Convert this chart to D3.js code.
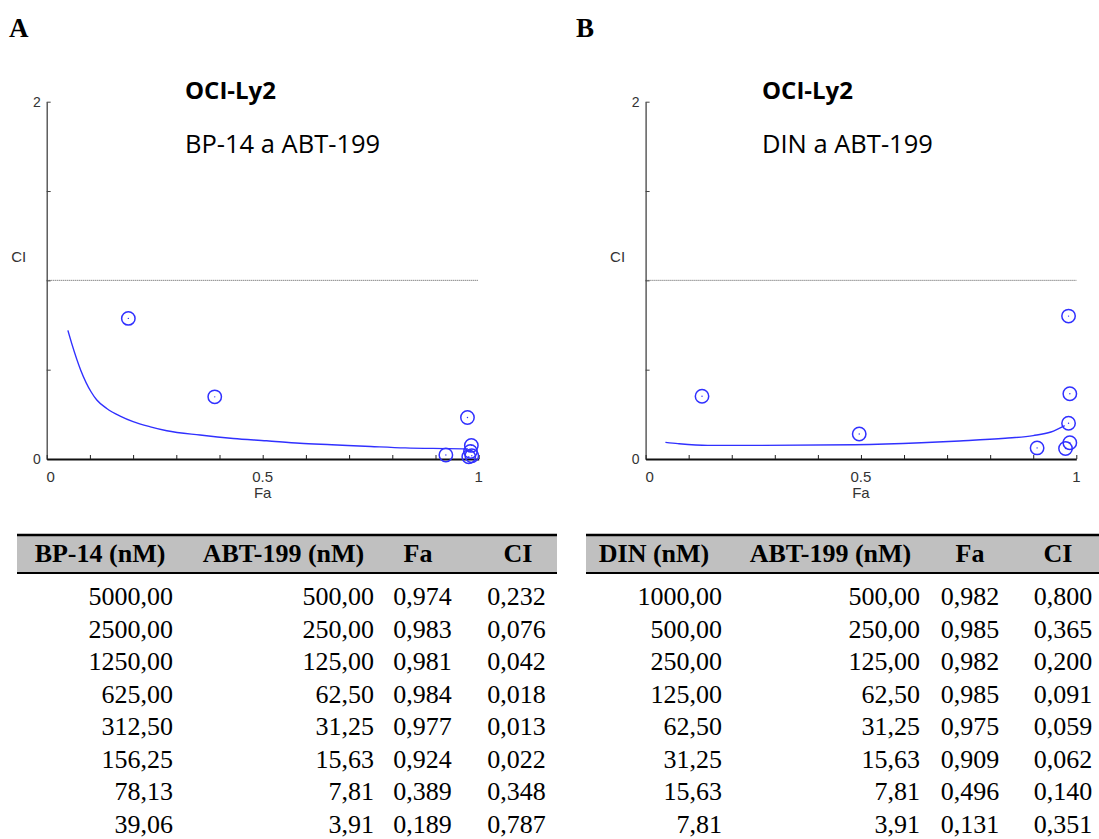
<!DOCTYPE html>
<html>
<head>
<meta charset="utf-8">
<script src="https://cdn.jsdelivr.net/npm/d3@7"></script>
<style>
  body { margin: 0; background: #fff; }
  svg { display: block; }
</style>
</head>
<body>
<svg id="fig" width="1099" height="839"></svg>
<script>
"use strict";

// table values, panel A (BP-14 + ABT-199)
var bp14Conc = [5000, 2500, 1250, 625, 312.5, 156.25, 78.13, 39.06];
var abtConcA = [500, 250, 125, 62.5, 31.25, 15.63, 7.81, 3.91];
var faA = [0.974, 0.983, 0.981, 0.984, 0.977, 0.924, 0.389, 0.189];
var ciA = [0.232, 0.076, 0.042, 0.018, 0.013, 0.022, 0.348, 0.787];

// table values, panel B (DIN + ABT-199)
var dinConc = [1000, 500, 250, 125, 62.5, 31.25, 15.63, 7.81];
var abtConcB = [500, 250, 125, 62.5, 31.25, 15.63, 7.81, 3.91];
var faB = [0.982, 0.985, 0.982, 0.985, 0.975, 0.909, 0.496, 0.131];
var ciB = [0.800, 0.365, 0.200, 0.091, 0.059, 0.062, 0.140, 0.351];

// simulated Fa-CI curves
var curveFaA = [0.049, 0.058, 0.079, 0.103, 0.116, 0.139, 0.170, 0.200, 0.240, 0.278, 0.355, 0.432, 0.509, 0.586, 0.660, 0.750, 0.830, 0.930, 0.975];
var curveCiA = [0.720, 0.646, 0.496, 0.375, 0.330, 0.283, 0.240, 0.209, 0.180, 0.158, 0.134, 0.115, 0.102, 0.088, 0.080, 0.070, 0.062, 0.058, 0.056];
var curveFaB = [0.046, 0.075, 0.144, 0.266, 0.485, 0.640, 0.729, 0.835, 0.900, 0.941, 0.973];
var curveCiB = [0.093, 0.086, 0.076, 0.076, 0.080, 0.091, 0.101, 0.116, 0.131, 0.151, 0.187];

// axes
var faTicks = [0, 0.1, 0.2, 0.3, 0.4, 0.5, 0.6, 0.7, 0.8, 0.9, 1];
var faLabels = [0, 0.5, 1];
var ciTicks = [0, 0.5, 1, 1.5, 2];
var ciLabels = [0, 2];

var headersA = ['BP-14 (nM)', 'ABT-199 (nM)', 'Fa', 'CI'];
var headersB = ['DIN (nM)', 'ABT-199 (nM)', 'Fa', 'CI'];

var BLUE = '#3030ff';
var svg = d3.select('#fig');

var loc = d3.formatLocale({ decimal: ',', thousands: '', grouping: [3], currency: ['', ''] });
var f2 = loc.format('.2f');
var f3 = loc.format('.3f');

function drawPlot(p) {
  var x = d3.scaleLinear().domain([0, 1]).range([p.x0, p.x1]);
  var y = d3.scaleLinear().domain([0, 2]).range([459, 101.7]);
  var g = svg.append('g');

  g.append('text')
    .attr('x', p.letterX).attr('y', 37)
    .style('font-family', 'Liberation Serif, serif')
    .style('font-weight', 'bold').style('font-size', '27px')
    .text(p.letter);

  g.append('text')
    .attr('x', p.titleX).attr('y', 99)
    .style('font-family', 'Open Sans, sans-serif')
    .style('font-weight', 'bold').style('font-size', '24px')
    .text('OCI-Ly2');
  g.append('text')
    .attr('x', p.titleX).attr('y', 153)
    .style('font-family', 'Open Sans, sans-serif')
    .style('font-size', '25.5px')
    .text(p.subtitle);

  // y axis
  var ya = g.append('g')
    .attr('transform', 'translate(' + p.x0 + ',0)')
    .call(d3.axisLeft(y).tickValues(ciTicks).tickSize(-4).tickSizeOuter(0).tickFormat(''));
  ya.select('.domain').attr('stroke', '#444').attr('stroke-width', 1.3);
  ya.selectAll('.tick line').attr('stroke', '#444');

  // x axis
  var xa = g.append('g')
    .attr('transform', 'translate(0,' + y(0) + ')')
    .call(d3.axisBottom(x).tickValues(faTicks).tickSize(-4).tickSizeOuter(0).tickFormat(''));
  xa.select('.domain').attr('stroke', '#111').attr('stroke-width', 1.8);
  xa.selectAll('.tick line').attr('stroke', '#222');

  var lab = { 'font-family': 'Liberation Sans, Arial, sans-serif', 'font-size': '15px', 'fill': '#333' };

  g.selectAll('.ylab').data(ciLabels).enter().append('text')
    .attr('x', p.x0 - 6).attr('y', function (d) { return y(d) + 5; })
    .attr('text-anchor', 'end')
    .style('font-family', lab['font-family']).style('font-size', '14px').style('fill', lab.fill)
    .text(function (d) { return d; });

  g.selectAll('.xlab').data(faLabels).enter().append('text')
    .attr('x', function (d) { return d === 0 ? x(d) + 4 : x(d); })
    .attr('y', 482)
    .attr('text-anchor', 'middle')
    .style('font-family', lab['font-family']).style('font-size', lab['font-size']).style('fill', lab.fill)
    .text(function (d) { return d; });

  g.append('text')
    .attr('x', x(0.5)).attr('y', 498)
    .attr('text-anchor', 'middle')
    .style('font-family', lab['font-family']).style('font-size', lab['font-size']).style('fill', lab.fill)
    .text('Fa');
  g.append('text')
    .attr('x', p.x0 - 28).attr('y', 262)
    .attr('text-anchor', 'middle')
    .style('font-family', lab['font-family']).style('font-size', lab['font-size']).style('fill', lab.fill)
    .text('CI');

  // CI = 1 reference
  g.append('line')
    .attr('x1', x(0)).attr('x2', x(1))
    .attr('y1', y(1)).attr('y2', y(1))
    .attr('stroke', '#555').attr('stroke-width', 1)
    .attr('stroke-dasharray', '1,1');

  var curve = p.curveFa.map(function (d, i) { return [d, p.curveCi[i]]; });
  g.append('path')
    .datum(curve)
    .attr('fill', 'none')
    .attr('stroke', BLUE)
    .attr('stroke-width', 1.4)
    .attr('d', d3.line().curve(d3.curveMonotoneX)
      .x(function (d) { return x(d[0]); }).y(function (d) { return y(d[1]); }));

  var pts = p.fa.map(function (d, i) { return [d, p.ci[i]]; });
  var m = g.selectAll('.pt').data(pts).enter().append('g')
    .attr('transform', function (d) { return 'translate(' + x(d[0]) + ',' + y(d[1]) + ')'; });
  m.append('circle').attr('r', 6.7)
    .attr('fill', 'none').attr('stroke', BLUE).attr('stroke-width', 1.5);
  m.append('circle').attr('r', 0.7).attr('fill', BLUE);
}

function drawTable(t) {
  var g = svg.append('g');
  g.append('rect')
    .attr('x', t.left).attr('y', 535)
    .attr('width', t.right - t.left).attr('height', 38)
    .attr('fill', '#c0c0c0');
  g.append('line')
    .attr('x1', t.left).attr('x2', t.right).attr('y1', 535).attr('y2', 535)
    .attr('stroke', '#000').attr('stroke-width', 2.5);
  g.append('line')
    .attr('x1', t.left).attr('x2', t.right).attr('y1', 573).attr('y2', 573)
    .attr('stroke', '#000').attr('stroke-width', 2);

  g.selectAll('.hd').data(t.headers).enter().append('text')
    .attr('x', function (d, i) { return t.headX[i]; })
    .attr('y', 562)
    .attr('text-anchor', 'middle')
    .style('font-family', 'Liberation Serif, serif')
    .style('font-weight', 'bold').style('font-size', '26px')
    .text(function (d) { return d; });

  var cols = [
    { vals: t.c1, fmt: f2, x: t.colX[0], anchor: 'end' },
    { vals: t.c2, fmt: f2, x: t.colX[1], anchor: 'end' },
    { vals: t.fa, fmt: f3, x: t.colX[2], anchor: 'middle' },
    { vals: t.ci, fmt: f3, x: t.colX[3], anchor: 'middle' }
  ];
  var rowY = d3.scaleLinear().domain([0, 7]).range([605, 833]);
  cols.forEach(function (c) {
    g.selectAll(null).data(c.vals).enter().append('text')
      .attr('x', c.x)
      .attr('y', function (d, i) { return rowY(i); })
      .attr('text-anchor', c.anchor)
      .style('font-family', 'Liberation Serif, serif')
      .style('font-size', '26px')
      .text(function (d) { return c.fmt(d); });
  });
}

drawPlot({ letter: 'A', letterX: 9, titleX: 185, subtitle: 'BP-14 a ABT-199',
  x0: 46.7, x1: 478.7, fa: faA, ci: ciA, curveFa: curveFaA, curveCi: curveCiA });
drawPlot({ letter: 'B', letterX: 576, titleX: 762, subtitle: 'DIN a ABT-199',
  x0: 645.6, x1: 1076.3, fa: faB, ci: ciB, curveFa: curveFaB, curveCi: curveCiB });

drawTable({ left: 17, right: 557, headers: headersA, headX: [100, 283.5, 418, 518],
  colX: [173, 374, 422.6, 516.4], c1: bp14Conc, c2: abtConcA, fa: faA, ci: ciA });
drawTable({ left: 586, right: 1099, headers: headersB, headX: [654, 830.5, 970, 1058],
  colX: [722, 920, 970, 1063], c1: dinConc, c2: abtConcB, fa: faB, ci: ciB });
</script>
</body>
</html>
